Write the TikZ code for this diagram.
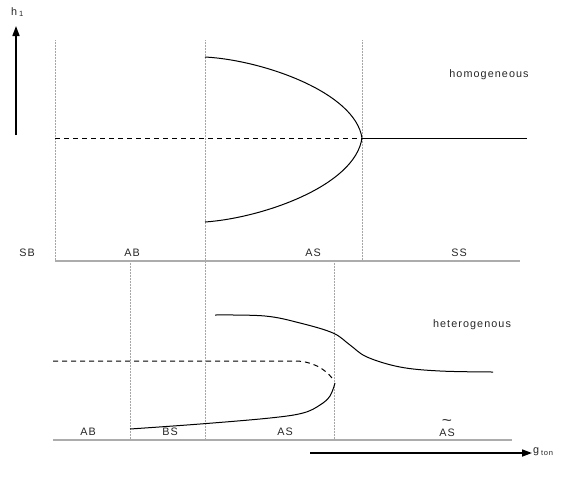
\documentclass[tikz,border=0pt]{standalone}
\usepackage{fontspec}
\setmainfont{Liberation Sans}[LetterSpace=10]
\usetikzlibrary{arrows.meta}
\begin{document}
\begin{tikzpicture}[x=1pt,y=-1pt,
  lbl/.style={font=\fontsize{10.8}{12}\selectfont, text=black!85, inner sep=0pt},
  guide/.style={densely dotted, gray!70, line width=0.5pt},
  axisline/.style={gray!65, line width=1.6pt},
  curve/.style={black, line width=1pt},
  dashcurve/.style={black, line width=1pt, dash pattern=on 5pt off 4pt},
  arr/.style={black, line width=1.6pt, -{Triangle[length=10pt,width=7pt]}}]
\useasboundingbox (0,0) rectangle (569,488);
% guide lines
\draw[guide] (55,40) -- (55,261);
\draw[guide] (205,40) -- (205,440);
\draw[guide] (362,40) -- (362,261);
\draw[guide] (130,261) -- (130,440);
\draw[guide] (334,261) -- (334,440);
% axes
\draw[axisline] (55,261) -- (520,261);
\draw[axisline] (53,440) -- (512,440);
% h1 arrow
\coordinate (hb) at (16,135);
\coordinate (ht) at (16,26);
\draw[arr] (hb) -- (ht);
\node[lbl, anchor=west] (h1) at (11,12) {h\,\textsubscript{1}};
% g_ton arrow
\coordinate (gs) at (310,453);
\coordinate (ge) at (532,453);
\draw[arr] (gs) -- (ge);
\node[lbl, anchor=west] (gton) at (533,452) {g\,\textsubscript{ton}};
% top panel curves
\coordinate (bp) at (362,138);
\draw[dashcurve] (55,138) -- (bp);
\draw[curve] (bp) -- (527,138);
\draw[curve] (205,57) .. controls (262,60) and (355,92) .. (bp);
\draw[curve] (bp) .. controls (355,186) and (262,218) .. (205,222);
% bottom panel curves
\draw[curve] plot[smooth, tension=0.6] coordinates {(215,315) (265,316) (300,323) (333,333) (350,345) (367,357) (400,367) (440,371) (493,372)};
\draw[dashcurve] (53,361) -- (295,361) .. controls (312,361) and (325,369) .. (332,378);
\draw[curve] plot[smooth, tension=0.6] coordinates {(130,429) (200,424) (270,418) (303,413) (320,405) (330,396) (335,383)};
% labels
\node[lbl] (hom) at (489,75) {homogeneous};
\node[lbl] (het) at (472,325) {heterogenous};
\node[lbl] (sb) at (27,253) {SB};
\node[lbl] (ab1) at (132,253) {AB};
\node[lbl] (as1) at (313,253) {AS};
\node[lbl] (ss) at (459,253) {SS};
\node[lbl] (ab2) at (88,432) {AB};
\node[lbl] (bs) at (170,432) {BS};
\node[lbl] (as2) at (285,432) {AS};
\node[lbl, anchor=base] (as3) at (447,436) {\shortstack{\scalebox{1.6}[1.4]{\char"7E}\\[0pt]AS}};
\end{tikzpicture}
\end{document}
